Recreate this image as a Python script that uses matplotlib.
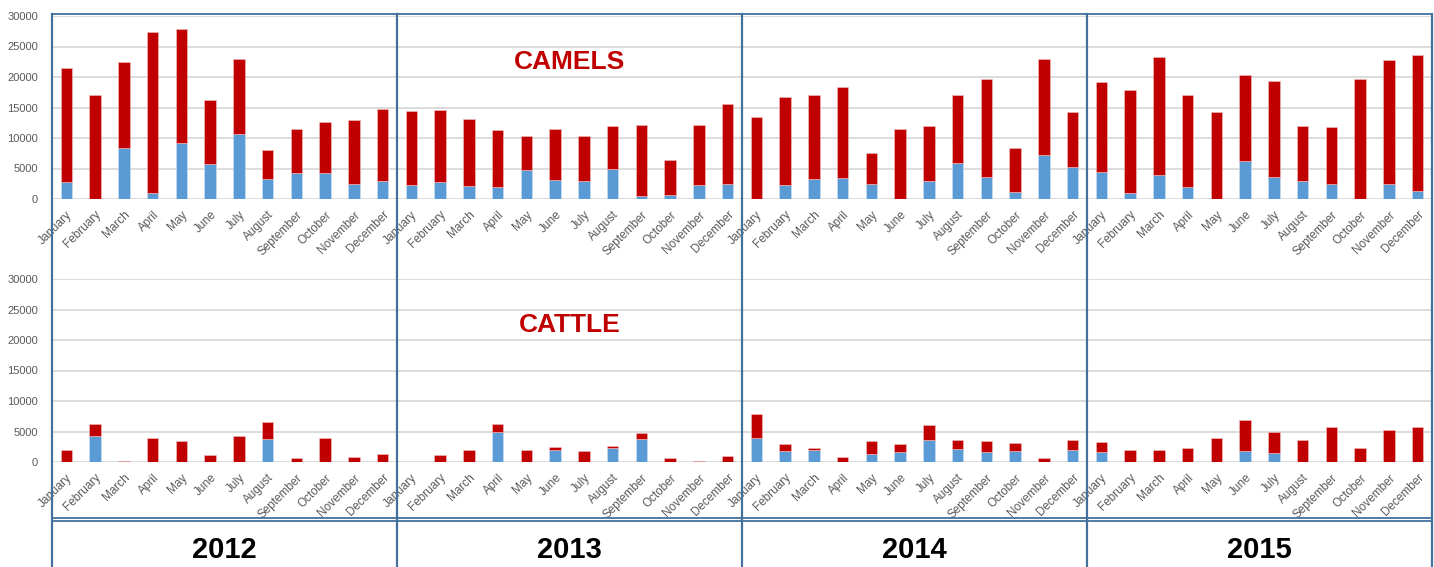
import numpy as np
import matplotlib.pyplot as plt
from matplotlib.lines import Line2D
from matplotlib.transforms import blended_transform_factory

months = ["January", "February", "March", "April", "May", "June", "July",
          "August", "September", "October", "November", "December"]
years = ["2012", "2013", "2014", "2015"]

# camels: total bar height and blue (lower) part, Jan 2012 .. Dec 2015
camels_total = [21400, 17100, 22400, 27400, 27800, 16200, 22900, 8100, 11400, 12600, 13000, 14700,
                14500, 14600, 13100, 11300, 10300, 11400, 10300, 11900, 12200, 6400, 12200, 15500,
                13500, 16700, 17100, 18400, 7500, 11400, 12000, 17100, 19700, 8400, 23000, 14200,
                19200, 17800, 23200, 17000, 14200, 20400, 19400, 11900, 11800, 19600, 22800, 23600]
camels_blue = [2800, 0, 8300, 1000, 9100, 5800, 10700, 3300, 4200, 4300, 2500, 2900,
               2300, 2800, 2200, 1900, 4800, 3100, 2900, 5000, 550, 650, 2300, 2500,
               0, 2300, 3300, 3400, 2500, 0, 3000, 5900, 3600, 1100, 7200, 5300,
               4500, 1000, 3900, 2000, 0, 6300, 3600, 3000, 2500, 0, 2500, 1300]

# cattle
cattle_total = [1900, 6300, 150, 3900, 3400, 1100, 4200, 6600, 600, 3900, 750, 1250,
                0, 1100, 1900, 6300, 1900, 2500, 1750, 2600, 4750, 650, 200, 950,
                7900, 2900, 2300, 750, 3500, 3000, 6000, 3550, 3450, 3100, 700, 3550,
                3300, 1900, 1900, 2350, 3950, 6850, 4850, 3600, 5700, 2350, 5300, 5700]
cattle_blue = [0, 4200, 0, 0, 0, 0, 0, 3800, 0, 0, 0, 0,
               0, 0, 0, 4850, 0, 2000, 0, 2350, 3800, 0, 0, 0,
               4000, 1850, 1950, 0, 1250, 1700, 3550, 2150, 1600, 1850, 0, 1950,
               1700, 0, 0, 0, 0, 1850, 1500, 0, 0, 0, 0, 0]

red = '#C00000'
blue = '#5B9BD5'
frame = '#41719C'

fig = plt.figure(figsize=(14.34, 5.67), dpi=100)
x = np.arange(len(months) * len(years))
labels = months * len(years)

left = 52 / 1434
width = 1380 / 1434
ax_top = fig.add_axes([left, 1 - 199 / 567, width, 183 / 567])
ax_bot = fig.add_axes([left, 1 - 462 / 567, width, 183 / 567])

for ax, total, low, title in [(ax_top, camels_total, camels_blue, "CAMELS"),
                              (ax_bot, cattle_total, cattle_blue, "CATTLE")]:
    total = np.array(total)
    low = np.array(low)
    ax.bar(x, low, width=0.4, color=blue, edgecolor='#cfe0f2', linewidth=0.4)
    ax.bar(x, total - low, bottom=low, width=0.4, color=red, edgecolor='#f2c4c4', linewidth=0.4)
    ax.set_xlim(-0.5, len(x) - 0.5)
    ax.set_ylim(0, 30000)
    ax.set_yticks(np.arange(0, 30001, 5000))
    ax.yaxis.grid(True, color='#d9d9d9', linewidth=1.3)
    ax.set_axisbelow(True)
    for s in ax.spines.values():
        s.set_visible(False)
    ax.tick_params(axis='both', length=0, colors='#595959', labelsize=8.5)
    ax.tick_params(axis='y', pad=10)
    ax.tick_params(axis='x', pad=7)
    ax.set_xticks(x)
    ax.set_xticklabels(labels, rotation=45, ha='right', rotation_mode='anchor',
                       family='Liberation Sans')
    for t in ax.get_yticklabels():
        t.set_family('Liberation Sans')
        t.set_fontsize(8)
    ax.text(17.5, 22500, title, color=red, fontsize=19, fontweight='bold',
            family='Liberation Sans', ha='center', va='center')

# frame lines across the whole figure
tr = blended_transform_factory(ax_top.transData, fig.transFigure)
for xv in [-0.5, 11.5, 23.5, 35.5, len(x) - 0.5]:
    fig.add_artist(Line2D([xv, xv], [0, 1 - 14 / 567], transform=tr, color=frame, linewidth=1.6))
for yp in [14, 518, 521]:
    fig.add_artist(Line2D([-0.5, len(x) - 0.5], [1 - yp / 567] * 2, transform=tr,
                          color=frame, linewidth=1.3))

for i, yr in enumerate(years):
    fig.text(tr.transform((i * 12 + 5.5, 0))[0] / fig.dpi / 14.34, 1 - 550 / 567, yr,
             ha='center', va='center', fontsize=21, fontweight='bold',
             family='Liberation Sans')

fig.savefig('out.png', dpi=100)
